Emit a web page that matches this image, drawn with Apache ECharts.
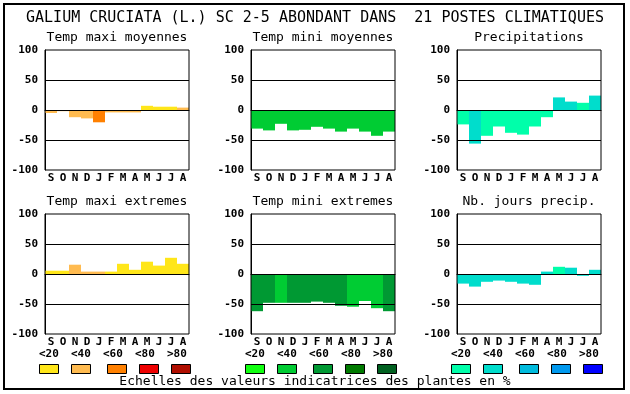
<!DOCTYPE html>
<html>
<head>
<meta charset="utf-8">
<script src="https://cdn.jsdelivr.net/npm/echarts@6/dist/echarts.min.js"></script>
<style>html,body{margin:0;padding:0;background:#fff;}#c{width:630px;height:394px;}</style>
</head>
<body>
<div id="c"></div>
<script>
const months = ['S','O','N','D','J','F','M','A','M','J','J','A'];
const yMin = -100, yMax = 100, yStep = 50;
const refLines = [50, 0, -50];

const titles = ['Temp maxi moyennes','Temp mini moyennes','Precipitations',
                'Temp maxi extremes','Temp mini extremes','Nb. jours precip.'];

const tmaxMoy      = [-5, -2, -12, -14, -20.5, -4, -4, -4, 7, 5.5, 5.5, 4];
const tmaxMoyClass = [1, 1, 1, 1, 2, 1, 1, 1, 0, 0, 0, 1];
const tminMoy      = [-31, -34, -23, -34, -33, -28, -31, -36, -31, -36, -43, -36];
const tminMoyClass = [1, 1, 1, 1, 1, 1, 1, 1, 1, 1, 1, 1];
const precip       = [-24, -56, -43, -27.5, -38, -41, -27.5, -12, 21, 14, 12, 24];
const precipClass  = [0, 1, 0, 0, 0, 0, 0, 0, 1, 1, 0, 1];
const tmaxExt      = [5.5, 5.5, 15.5, 4, 4, 4, 17, 7, 20.5, 14, 27, 17];
const tmaxExtClass = [0, 0, 1, 1, 1, 0, 0, 0, 0, 0, 0, 0];
const tminExt      = [-62, -48, -48, -48, -48, -46, -48, -53, -54.5, -45, -57, -62];
const tminExtClass = [2, 2, 1, 2, 2, 2, 2, 2, 1, 1, 1, 2];
const nbJours      = [-16, -21, -13, -11, -13, -16, -18, 4, 12, 10.5, -3, 7];
const nbJoursClass = [1, 1, 1, 1, 1, 1, 1, 1, 0, 1, 1, 1];

const legendLabels = ['<20','<40','<60','<80','>80'];
const tempColors  = ['#FFE619','#FFBB50','#FF8000','#EE0000','#B00E00'];
const greenColors = ['#11FF11','#00CC33','#009933','#007A00','#006020'];
const blueColors  = ['#00FFAA','#00DDCC','#00BBDD','#0099EE','#0000FF'];

const mainTitle = 'GALIUM CRUCIATA (L.) SC 2-5 ABONDANT DANS  21 POSTES CLIMATIQUES';
const caption = 'Echelles des valeurs indicatrices des plantes en %';

const panels = [
  {v: tmaxMoy, c: tmaxMoyClass, pal: tempColors},
  {v: tminMoy, c: tminMoyClass, pal: greenColors},
  {v: precip,  c: precipClass,  pal: blueColors},
  {v: tmaxExt, c: tmaxExtClass, pal: tempColors},
  {v: tminExt, c: tminExtClass, pal: greenColors},
  {v: nbJours, c: nbJoursClass, pal: blueColors}
];

const FONT = '"DejaVu Sans Mono", "Liberation Mono", monospace';
const colLeft = [45, 251, 457];
const rowTop = [50, 214];
const plotW = 144, plotH = 120;

const grids = [], xAxes = [], yAxes = [], series = [], graphics = [];

panels.forEach((p, i) => {
  const col = i % 3, row = Math.floor(i / 3);
  grids.push({left: colLeft[col], top: rowTop[row], width: plotW, height: plotH,
    show: true, borderColor: '#000', borderWidth: 1, z: 5, backgroundColor: 'transparent'});
  xAxes.push({type: 'category', gridIndex: i, data: months, boundaryGap: true,
    axisLine: {show: true, lineStyle: {color: '#000', width: 1}},
    axisTick: {show: false},
    axisLabel: {interval: 0, margin: 3, color: '#000', fontFamily: FONT, fontWeight: 'bold', fontSize: 11},
    splitLine: {show: false}});
  yAxes.push({type: 'value', gridIndex: i, min: yMin, max: yMax, interval: yStep,
    axisLine: {show: true, lineStyle: {color: '#000', width: 1}},
    axisTick: {show: false},
    axisLabel: {margin: 7, color: '#000', fontFamily: FONT, fontWeight: 'bold', fontSize: 11},
    splitLine: {show: false}});
  series.push({type: 'bar', xAxisIndex: i, yAxisIndex: i, barCategoryGap: '0%', barGap: '0%',
    data: p.v.map((val, k) => ({value: val, itemStyle: {color: p.pal[p.c[k]]}})),
    markLine: {silent: true, symbol: ['none','none'], label: {show: false},
      lineStyle: {color: '#000', type: 'solid', width: 1}, animation: false,
      data: refLines.map(y => ({yAxis: y}))}});
  graphics.push({type: 'text', left: 'auto', x: colLeft[col] + plotW / 2, y: rowTop[row] - 12,
    style: {text: titles[i], fill: '#000', font: '13px ' + FONT, textAlign: 'center', textVerticalAlign: 'middle'}});
});

// outer frame
graphics.push({type: 'rect', shape: {x: 4, y: 4, width: 620, height: 385},
  style: {fill: 'none', stroke: '#000', lineWidth: 2}, z: 0});
// main title
graphics.push({type: 'text', x: 315, y: 18,
  style: {text: mainTitle, fill: '#000', font: '15px ' + FONT, textAlign: 'center', textVerticalAlign: 'middle'}});
// caption
graphics.push({type: 'text', x: 315, y: 382,
  style: {text: caption, fill: '#000', font: '13px ' + FONT, textAlign: 'center', textVerticalAlign: 'middle'}});

// legend scales
const groupStart = [39, 245, 451];
const labelOff = [0, 32, 64, 96, 128];
const swatchOff = [0, 32, 68, 100, 132];
[tempColors, greenColors, blueColors].forEach((pal, g) => {
  pal.forEach((colr, k) => {
    graphics.push({type: 'text', x: groupStart[g] + labelOff[k], y: 354,
      style: {text: legendLabels[k], fill: '#000', font: 'bold 11px ' + FONT, textAlign: 'left', textVerticalAlign: 'middle'}});
    graphics.push({type: 'rect', shape: {x: groupStart[g] + swatchOff[k] + 0.5, y: 364.5, width: 19, height: 9},
      style: {fill: colr, stroke: '#000', lineWidth: 1}});
  });
});

const chart = echarts.init(document.getElementById('c'), null, {renderer: 'canvas'});
chart.setOption({
  animation: false,
  backgroundColor: '#fff',
  grid: grids, xAxis: xAxes, yAxis: yAxes, series: series,
  graphic: graphics
});
</script>
</body>
</html>
